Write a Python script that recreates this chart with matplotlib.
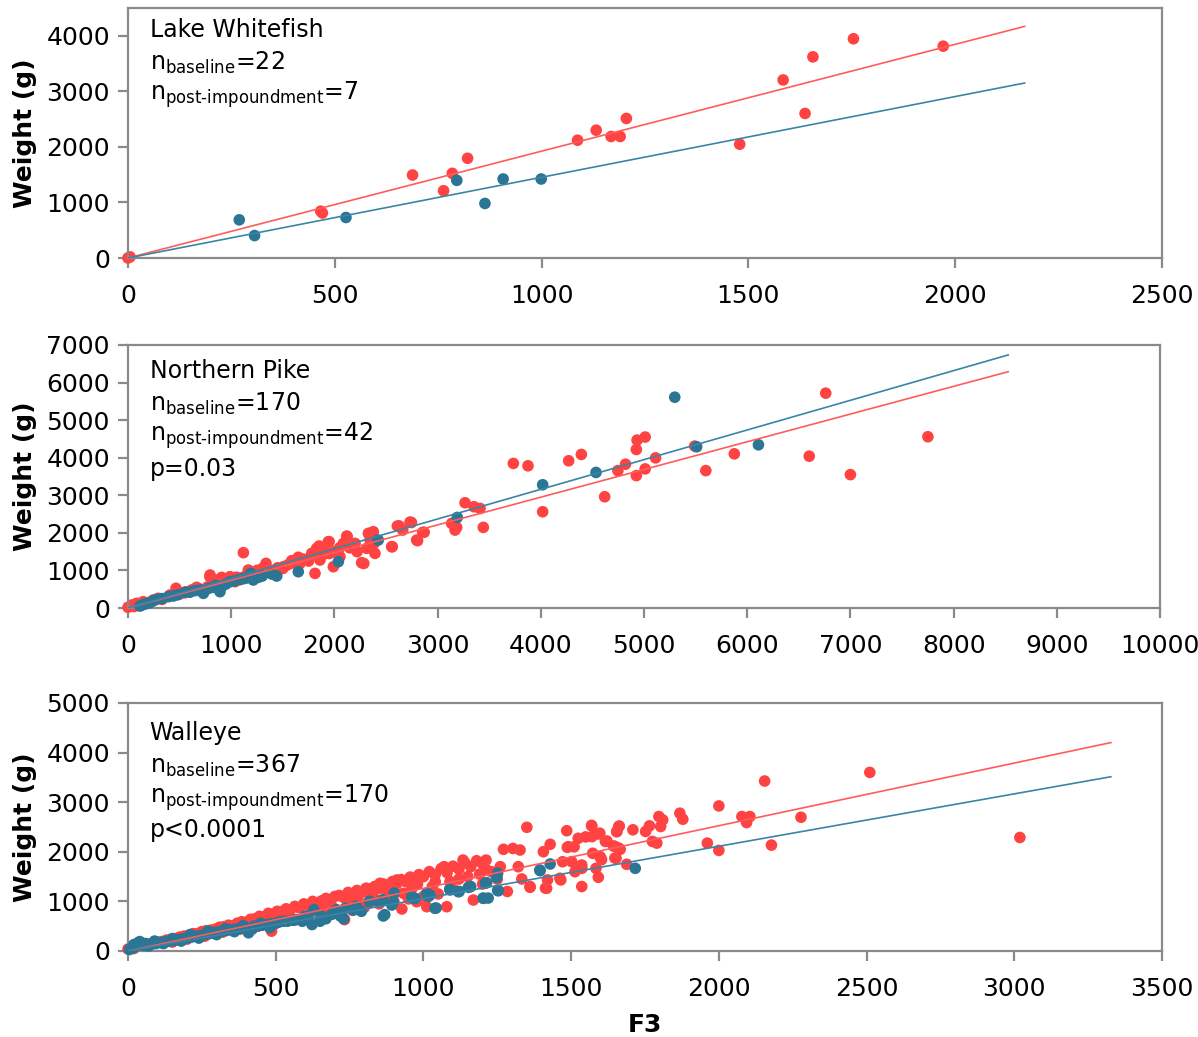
import matplotlib
matplotlib.use("Agg")
import matplotlib.pyplot as plt
import numpy as np

# ---- Lake Whitefish (F3, weight) ----
lw_base = [(0, 0), (5, 20), (466, 843), (470, 810), (688, 1494), (763, 1211), (784, 1524), (821, 1795),
           (1087, 2120), (1132, 2301), (1168, 2187), (1190, 2187), (1205, 2512), (1479, 2048), (1584, 3205),
           (1637, 2602), (1656, 3620), (1754, 3946), (1971, 3813)]
lw_post = [(269, 687), (306, 404), (527, 729), (795, 1398), (863, 982), (907, 1422), (999, 1422)]

# ---- Northern Pike ----
np_base = [(0, 19), (36, 80), (84, 125), (148, 168), (245, 213), (294, 258), (407, 346), (465, 524), (552, 407),
           (617, 479), (665, 550), (730, 479), (795, 878), (859, 745), (908, 816), (988, 833), (1037, 700),
           (1118, 1472), (1166, 1011), (1231, 922), (1337, 1188), (1344, 1011), (1424, 966), (1505, 1099),
           (1586, 1259), (1667, 1188), (1780, 1454), (1828, 1587), (1812, 922), (1860, 1277), (1941, 1764),
           (1990, 1099), (2054, 1365), (2087, 1720), (2119, 1915), (2200, 1720), (2264, 1206), (2313, 1587),
           (2329, 1986), (2377, 2030), (2393, 1454), (2345, 1809), (2384, 1720), (2555, 1631), (2610, 2181),
           (2662, 2074), (2733, 2287), (2797, 1809), (2855, 2013), (3136, 2252), (3169, 2074), (3185, 2146),
           (3266, 2801), (3353, 2695), (3411, 2651), (3443, 2146), (3734, 3848), (3876, 3785), (4018, 2562),
           (4270, 3918), (4393, 4087), (4619, 2961), (4747, 3657), (4821, 3827), (4926, 4219), (4933, 4469),
           (4926, 3524), (5011, 4550), (5011, 3702), (5112, 3996), (5491, 4309), (5599, 3657), (5875, 4103),
           (6601, 4041), (6761, 5718), (7000, 3550), (7751, 4558),
           (60, 40), (180, 120), (330, 230), (500, 370), (560, 430), (620, 470), (700, 500), (770, 560),
           (820, 620), (880, 700), (950, 730), (1000, 780), (1050, 820), (1100, 800), (1150, 870), (1200, 900),
           (1280, 950), (1400, 1000), (1450, 1070), (1500, 1050), (1550, 1150), (1600, 1200), (1700, 1300),
           (1750, 1250), (1880, 1400), (1950, 1450), (2000, 1500), (2150, 1600), (2220, 1500), (1300, 1050),
           (900, 650), (1080, 750), (1250, 1000), (1650, 1350), (1900, 1600), (2050, 1600), (1137, 847),
           (794, 830), (1852, 1650), (1949, 1766), (2124, 1900), (2285, 1186), (2348, 1989), (2561, 1632),
           (2628, 2185), (2747, 2275), (2806, 1793), (2870, 2016)]
np_post = [(116, 53), (165, 106), (229, 168), (278, 231), (391, 301), (439, 319), (552, 417), (649, 461),
           (730, 390), (827, 550), (891, 434), (908, 567), (988, 700), (1085, 762), (1189, 922), (1214, 745),
           (1263, 816), (1392, 904), (1441, 851), (1650, 966), (2038, 1232), (2425, 1809), (3191, 2411),
           (4018, 3280), (4535, 3608), (5510, 4291), (5298, 5611), (6109, 4344),
           (130, 70), (200, 130), (250, 200), (330, 250), (480, 350), (600, 420), (700, 480), (780, 520),
           (850, 600), (950, 640), (1030, 720), (1120, 780), (1300, 850), (1150, 800)]

# ---- Walleye ----
wa_base = [(0, 40), (10, 60), (20, 50), (30, 90), (40, 100), (55, 110), (70, 140), (85, 150), (100, 180),
           (115, 190), (130, 220), (145, 230), (160, 250), (175, 280), (190, 300), (205, 310), (220, 350),
           (235, 350), (250, 390), (265, 410), (280, 420), (295, 440), (310, 480), (325, 490), (340, 520),
           (355, 510), (370, 560), (385, 590), (400, 580), (415, 640), (430, 650), (445, 700), (460, 690),
           (475, 760), (490, 740), (505, 800), (520, 790), (535, 850), (550, 830), (565, 900), (580, 870),
           (595, 950), (610, 920), (625, 1000), (640, 960), (655, 1010), (670, 1060), (685, 1020), (700, 1100),
           (715, 1120), (730, 1080), (745, 1180), (760, 1150), (775, 1220), (790, 1180), (805, 1260), (820, 1230),
           (835, 1300), (850, 1260), (865, 1350), (880, 1320), (895, 1400), (910, 1360), (925, 1440), (940, 1400),
           (955, 1490), (970, 1440), (985, 1540), (1000, 1500), (1020, 1600), (1040, 1540), (1060, 1660),
           (1080, 1580), (1100, 1710), (1120, 1650), (1140, 1780), (1160, 1700), (1180, 1820), (1200, 1760),
           (540, 700), (620, 800), (690, 900), (750, 950), (820, 1050), (880, 1150), (960, 1250), (1030, 1300),
           (1090, 1400), (1150, 1500), (1230, 1600), (1260, 1700), (1190, 1550), (1120, 1450), (1040, 1400),
           (980, 1350), (900, 1200), (780, 1000), (660, 850),
           (150, 180), (200, 240), (260, 300), (320, 380), (380, 440), (440, 500), (486, 400), (500, 560),
           (560, 620), (600, 680), (650, 720), (700, 760), (733, 633), (760, 820), (800, 880), (850, 950),
           (900, 1000), (927, 847), (950, 1050), (1000, 1100), (1022, 1163), (1050, 1150), (1079, 893),
           (1011, 893), (977, 994), (932, 1163), (887, 1062), (830, 1095), (808, 1264), (763, 1163), (729, 1095),
           (853, 1365), (910, 1431), (1158, 1296), (1169, 1028), (1100, 1250), (1200, 1350), (1250, 1450),
           (1350, 2494), (1271, 2050), (1327, 2036), (1321, 1700), (1333, 1452), (1361, 1284), (1417, 1264),
           (1406, 2002), (1429, 2151), (1462, 1466), (1485, 2425), (1491, 2103), (1214, 1633), (1303, 2067),
           (1212, 1833), (1134, 1833), (1070, 1700), (1420, 1433), (1413, 1267), (1361, 1300), (1284, 1200),
           (1510, 2100), (1549, 2300), (1569, 2533), (1471, 1800), (1536, 1733), (1465, 1433), (1536, 1300),
           (1487, 2090), (1502, 1801), (1513, 1599), (1524, 2272), (1536, 1667), (1570, 2520), (1570, 2305),
           (1573, 1970), (1592, 2359), (1592, 1486), (1584, 1667), (1600, 1881), (1621, 2218), (1643, 2117),
           (1654, 2405), (1663, 2520), (1652, 1869), (1666, 2050), (1688, 1748), (1597, 2376), (1616, 2209),
           (1597, 1908), (1603, 1841), (1648, 2108), (1655, 2410), (1661, 2510), (1648, 1874), (1661, 2075),
           (1709, 2443), (1752, 2410), (1765, 2523), (1775, 2209), (1790, 2175), (1797, 2711), (1803, 2510),
           (1810, 2644), (1868, 2778), (1878, 2657), (1961, 2175), (2000, 2925), (2000, 2028), (2078, 2711),
           (2094, 2590), (2105, 2711), (2155, 3427), (2178, 2135), (2278, 2697), (2511, 3601), (3019, 2289)]
wa_post = [(5, 30), (15, 60), (25, 90), (35, 170), (45, 120), (55, 110), (70, 100), (80, 140), (95, 150),
           (110, 170), (125, 185), (140, 200), (155, 210), (170, 230), (185, 245), (200, 260), (215, 280),
           (230, 300), (245, 310), (260, 330), (275, 350), (290, 370), (305, 385), (320, 400), (335, 415),
           (350, 430), (365, 440), (380, 460), (395, 470), (408, 367), (425, 500), (440, 510), (455, 520),
           (473, 533), (485, 550), (500, 560), (525, 600), (540, 600), (560, 620), (570, 633), (590, 600),
           (610, 650), (623, 533), (629, 833), (655, 700), (670, 650), (690, 740), (706, 833), (720, 700),
           (735, 861), (763, 827), (771, 900), (774, 893), (790, 800), (817, 1000), (819, 994), (853, 994),
           (862, 1033), (864, 706), (869, 733), (893, 927), (898, 994), (901, 1167), (960, 1095), (965, 1067),
           (972, 1062), (1011, 1163), (1017, 1100), (1022, 1129), (1039, 861), (1043, 867), (1089, 1247),
           (1090, 1230), (1118, 1196), (1121, 1200), (1152, 1284), (1160, 1300), (1202, 1067), (1203, 1062),
           (1210, 1367), (1214, 1377), (1219, 1067), (1248, 1486), (1251, 1567), (1251, 1220), (1254, 1216),
           (1394, 1633), (1395, 1619), (1429, 1754), (1717, 1667),
           (20, 130), (40, 190), (60, 150), (90, 200), (120, 150), (150, 250), (180, 200), (210, 330),
           (240, 260), (270, 400), (300, 330), (330, 450), (360, 390), (390, 510), (420, 440), (450, 560),
           (480, 470), (510, 580), (600, 700), (650, 600), (700, 800), (730, 650)]

# ---- regression lines (slope through origin, x where line stops) ----
fit_slope_base = [1.923, 0.7374, 1.263]
fit_slope_post = [1.453, 0.7897, 1.056]
fit_xmax = [2168, 8529, 3327]

species = ["Lake Whitefish", "Northern Pike", "Walleye"]
n_base = [22, 170, 367]
n_post = [7, 42, 170]
p_text = [None, "p=0.03", "p<0.0001"]
x_limits = [2500, 10000, 3500]
x_steps = [500, 1000, 500]
y_limits = [4500, 7000, 5000]

RED = "#FF4343"
BLUE = "#2B7595"
RED_LINE = "#FF5C5C"
BLUE_LINE = "#3A85A6"
GREY = "#8A8A8A"

plt.rcParams['font.family'] = ['DejaVu Sans']
plt.rcParams['font.size'] = 18

W, H = 1198, 1037
fig = plt.figure(figsize=(W / 100, H / 100), dpi=100)

# axes boxes in pixels: left, top, right, bottom
boxes_px = [(128, 8, 1162, 258), (128, 345, 1160, 608), (128, 703, 1162, 951)]
text_offset_px = [22, 26, 30]
line_step_px = 32.5

data = [(lw_base, lw_post), (np_base, np_post), (wa_base, wa_post)]

for i, (l, t, r, b) in enumerate(boxes_px):
    ax = fig.add_axes((l / W, 1 - b / H, (r - l) / W, (b - t) / H))
    base, post = data[i]
    bx, by = zip(*base)
    px, py = zip(*post)

    ax.scatter(bx, by, s=70, color=RED, edgecolors='none', zorder=2, clip_on=False)
    ax.scatter(px, py, s=70, color=BLUE, edgecolors='none', zorder=3, clip_on=False)

    xx = np.linspace(0, fit_xmax[i], 50)
    ax.plot(xx, fit_slope_base[i] * xx, color=RED_LINE, lw=1.2, zorder=4)
    ax.plot(xx, fit_slope_post[i] * xx, color=BLUE_LINE, lw=1.2, zorder=4)

    ax.set_xlim(0, x_limits[i])
    ax.set_ylim(0, y_limits[i])
    ax.set_xticks(np.arange(0, x_limits[i] + 1, x_steps[i]))
    ax.set_yticks(np.arange(0, y_limits[i] + 1, 1000))

    for sp in ax.spines.values():
        sp.set_color(GREY)
        sp.set_linewidth(1.6)
    ax.tick_params(axis='both', direction='out', color=GREY, width=1.6, length=7)
    ax.tick_params(axis='x', pad=12)
    ax.tick_params(axis='y', pad=6)

    ax.set_ylabel("Weight (g)", fontweight='bold', fontsize=18)
    ax.yaxis.set_label_coords(-0.088, 0.5)

    lines = [species[i],
             r"$\mathregular{n_{baseline}}$=" + str(n_base[i]),
             r"$\mathregular{n_{post\text{-}impoundment}}$=" + str(n_post[i])]
    if p_text[i]:
        lines.append(p_text[i])
    for k, txt in enumerate(lines):
        ypix = t + text_offset_px[i] + k * line_step_px
        ax.text(0.021, 1 - (ypix - t) / (b - t), txt, transform=ax.transAxes,
                fontsize=17, va='center', ha='left')

    if i == 2:
        ax.set_xlabel("F3", fontweight='bold', fontsize=18, labelpad=8)

fig.savefig("out.png", dpi=100)
